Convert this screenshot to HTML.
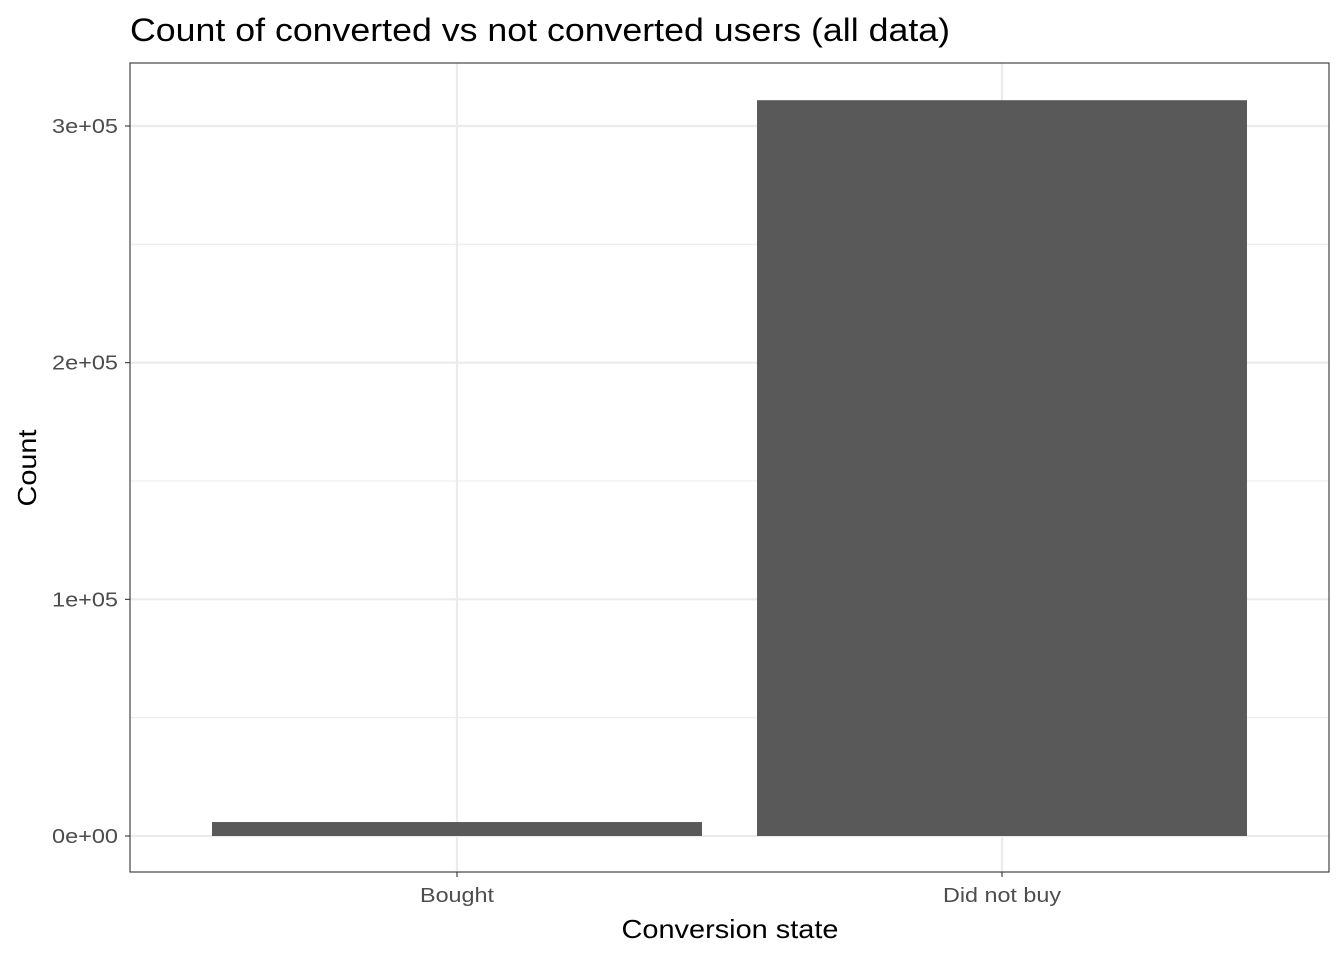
<!DOCTYPE html>
<html><head><meta charset="utf-8"><style>
html,body{margin:0;padding:0;background:#fff;}
svg{display:block;font-family:"Liberation Sans",sans-serif;}
</style></head><body>
<svg id="chart" width="1344" height="960"></svg>
<script>
const categories=["Bought","Did not buy"];
const counts=[5900,310900];
const yTicks=[0,100000,200000,300000];
const yTickLabels=["0e+00","1e+05","2e+05","3e+05"];
const yMinor=[50000,150000,250000];

const NS="http://www.w3.org/2000/svg";
const svg=document.getElementById('chart');
const L=130,R=1329,T=63,B=872;
const y0=836,pxPer=(836-126)/300000;
function y(v){return y0-v*pxPer;}
function xc(i){return 457+i*545;}
function mk(tag,attrs,parent){const e=document.createElementNS(NS,tag);for(const k in attrs)e.setAttribute(k,attrs[k]);(parent||svg).appendChild(e);return e;}

const grid=mk('g',{});


yMinor.forEach(v=>mk('line',{x1:L,x2:R,y1:y(v),y2:y(v),stroke:'#ebebeb','stroke-width':1.1},grid));
yTicks.forEach(v=>mk('line',{x1:L,x2:R,y1:y(v),y2:y(v),stroke:'#ebebeb','stroke-width':2.2},grid));
categories.forEach((c,i)=>mk('line',{x1:xc(i),x2:xc(i),y1:T,y2:B,stroke:'#ebebeb','stroke-width':2.2},grid));

categories.forEach((c,i)=>{
  const w=490;
  const r=mk('rect',{x:xc(i)-w/2,y:y(counts[i]),width:w,height:y0-y(counts[i]),fill:'#595959'});
  
  
});

const frame=mk('rect',{x:L,y:T,width:R-L,height:B-T,fill:'none',stroke:'#333','stroke-width':1.1});



yTicks.forEach((v,i)=>{
  mk('line',{x1:L-5,x2:L,y1:y(v),y2:y(v),stroke:'#333','stroke-width':1.1});
  const t=mk('text',{x:118,y:y(v)+7,'text-anchor':'end','font-size':20,fill:'#4d4d4d',textLength:66,lengthAdjust:'spacingAndGlyphs'});
  t.textContent=yTickLabels[i];
  
  
});
const xLens=[74,118];
categories.forEach((c,i)=>{
  mk('line',{x1:xc(i),x2:xc(i),y1:B,y2:B+5,stroke:'#333','stroke-width':1.1});
  const t=mk('text',{x:xc(i),y:902,'text-anchor':'middle','font-size':20,fill:'#4d4d4d',textLength:xLens[i],lengthAdjust:'spacingAndGlyphs'});
  t.textContent=c;
  
  
});

const xt=mk('text',{x:730,y:938,'text-anchor':'middle','font-size':26,fill:'#000',textLength:217,lengthAdjust:'spacingAndGlyphs'});
xt.textContent='Conversion state';


const yt=mk('text',{x:36,y:468,'text-anchor':'middle','font-size':26,fill:'#000',transform:'rotate(-90 36 468)',textLength:77,lengthAdjust:'spacingAndGlyphs'});
yt.textContent='Count';


const tt=mk('text',{x:130,y:41,'font-size':32,fill:'#000',textLength:820,lengthAdjust:'spacingAndGlyphs'});
tt.textContent='Count of converted vs not converted users (all data)';


</script>
</body></html>
